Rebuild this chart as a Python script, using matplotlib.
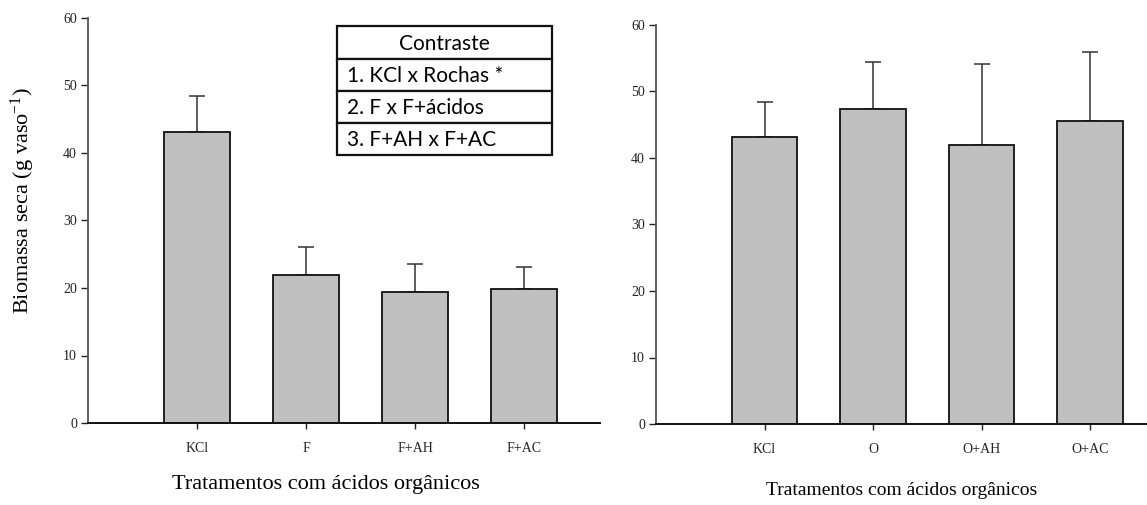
import matplotlib
matplotlib.use("Agg")
import matplotlib.pyplot as plt
import numpy as np

left_cats = ["KCl", "F", "F+AH", "F+AC"]
left_means = [43.1, 21.9, 19.4, 19.9]
left_errs = [5.3, 4.1, 4.2, 3.2]

right_cats = ["KCl", "O", "O+AH", "O+AC"]
right_means = [43.1, 47.3, 42.0, 45.5]
right_errs = [5.3, 7.1, 12.2, 10.5]

yticks = [0, 10, 20, 30, 40, 50, 60]
xlabel = "Tratamentos com ácidos orgânicos"
ylabel = "Biomassa seca (g vaso$^{\\mathregular{-1}}$)"
table_rows = ["Contraste", "1. KCl x Rochas *", "2. F x F+ácidos", "3. F+AH x F+AC"]

W, H = 1147, 505
fig = plt.figure(figsize=(W / 100, H / 100), dpi=100)
plt.rcParams['font.family'] = ['Liberation Serif', 'DejaVu Serif']
plt.rcParams['mathtext.fontset'] = 'custom'
plt.rcParams['mathtext.rm'] = 'Liberation Serif'
plt.rcParams['mathtext.it'] = 'Liberation Serif'
plt.rcParams['mathtext.default'] = 'regular'

def make_axes(l, r, b, t):
    return fig.add_axes([l / W, 1 - b / H, (r - l) / W, (b - t) / H])

def draw(ax, cats, means, errs, xmax):
    x = np.arange(1, len(cats) + 1)
    ax.bar(x, means, width=0.6, color="#c0c0c0", edgecolor="#111111", linewidth=1.3, zorder=2)
    ax.errorbar(x, means, yerr=[np.zeros(len(errs)), errs], fmt="none", ecolor="#333333",
                elinewidth=1.1, capsize=5.5, capthick=1.1, zorder=1)
    ax.set_xlim(0, xmax)
    ax.set_ylim(0, 60)
    ax.set_yticks(yticks)
    ax.set_xticks(x)
    ax.set_xticklabels(cats)
    for s in ["top", "right"]:
        ax.spines[s].set_visible(False)
    ax.spines["left"].set_color("#555555")
    ax.spines["left"].set_linewidth(1.3)
    ax.spines["bottom"].set_color("#111111")
    ax.spines["bottom"].set_linewidth(1.4)
    ax.tick_params(axis="y", length=5, width=1, labelsize=10, pad=3, colors="#222222")
    ax.tick_params(axis="x", length=4, width=1, labelsize=10, pad=10, colors="#222222")

ax1 = make_axes(88, 600, 423, 18)
draw(ax1, left_cats, left_means, left_errs, (600 - 88) / 109.0)
ax1.set_xlabel(xlabel, fontsize=16)
ax1.xaxis.label.set_va("baseline")
ax1.xaxis.set_label_coords(0.465, -0.163)
ax1.set_ylabel(ylabel, fontsize=16)
ax1.yaxis.label.set_va("center")
ax1.yaxis.set_label_coords(-0.127, 0.55)

ax2 = make_axes(656, 1147, 424, 25)
draw(ax2, right_cats, right_means, right_errs, (1147 - 656) / 108.5)
ax2.set_xlabel(xlabel, fontsize=14)
ax2.xaxis.label.set_va("baseline")
ax2.xaxis.set_label_coords(0.50, -0.178)

# contrast table
tx0, tx1 = 337, 552
ty = [26, 59, 91, 123, 155]
for i, txt in enumerate(table_rows):
    y0, y1 = ty[i], ty[i + 1]
    rect = plt.Rectangle((tx0 / W, 1 - y1 / H), (tx1 - tx0) / W, (y1 - y0) / H,
                         transform=fig.transFigure, facecolor="white", edgecolor="#111111",
                         linewidth=1.6, zorder=5)
    fig.patches.append(rect)
    ym = 1 - ((y0 + y1) / 2 + 1) / H
    if i == 0:
        fig.text((tx0 + tx1) / 2 / W, ym, txt, ha="center", va="center", fontsize=15,
                 family=["Lato", "DejaVu Sans"], zorder=6)
    else:
        fig.text((tx0 + 10) / W, ym, txt, ha="left", va="center", fontsize=15,
                 family=["Lato", "DejaVu Sans"], zorder=6)

fig.savefig("out.png", dpi=100)
